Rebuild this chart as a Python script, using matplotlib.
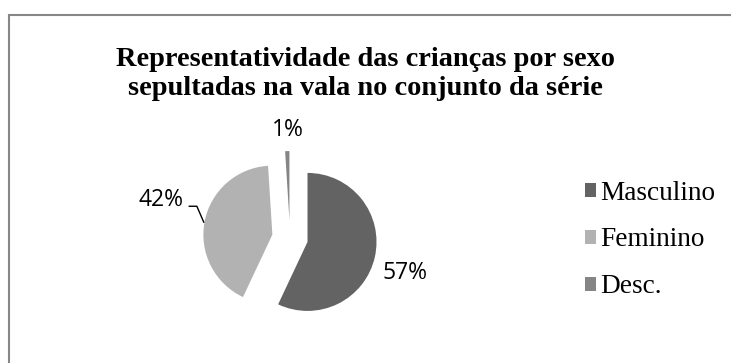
import matplotlib
matplotlib.use("Agg")
import matplotlib.pyplot as plt
from matplotlib.patches import Rectangle

# Data
categories = ["Masculino", "Feminino", "Desc."]
values = [57, 42, 1]
pct_labels = ["57%", "42%", "1%"]
colors = ["#636363", "#b2b2b2", "#858585"]
title = "Representatividade das crianças por sexo\nsepultadas na vala no conjunto da série"

W, H = 731, 363
fig = plt.figure(figsize=(W / 100, H / 100), dpi=100)
fig.patch.set_facecolor("white")

# outer frame (only top/left visible; extends past the image)
fig.patches.append(Rectangle((9 / W, -0.2), 1.3, 1.2 - 14.7 / H,
                             transform=fig.transFigure, fill=False,
                             edgecolor="#878787", linewidth=1.5, zorder=0))

# pie axes: centre at (290, 238) px, radius 69 px
cx, cy, half = 290, 238, 100
ax = fig.add_axes([(cx - half) / W, (H - cy - half) / H, 2 * half / W, 2 * half / H])

explode = [0.26, 0.26, 0.26]
wedges, _ = ax.pie(values, colors=colors, startangle=90, counterclock=False,
                   explode=explode, radius=1.0, frame=False,
                   wedgeprops=dict(linewidth=0))
lim = half / 69.0
ax.set_xlim(-lim, lim)
ax.set_ylim(-lim, lim)
ax.set_aspect("equal")
ax.axis("off")

# percentage labels (layout positions in data units)
label_pos = [(1.67, -0.51), (-1.87, 0.55), (-0.03, 1.57)]
for (x, y), t in zip(label_pos, pct_labels):
    ax.text(x, y, t, ha="center", va="center", fontsize=16.5,
            family="Open Sans", color="black", clip_on=False)

# leader line for 42%
ax.plot([-1.46, -1.35, -1.25], [0.46, 0.46, 0.23], color="black",
        linewidth=1.0, clip_on=False)

# title
fig.text(0.5, 1 - 74 / H, title, ha="center", va="center",
         fontsize=20.4, fontweight="bold", family="Liberation Serif",
         linespacing=1.2)

# legend
leg = fig.legend(wedges, categories, loc="center left",
                 bbox_to_anchor=(585 / W, 1 - 240 / H),
                 frameon=False, prop=dict(family="Liberation Serif", size=19.6),
                 handlelength=0.42, handleheight=0.42, handletextpad=0.12,
                 labelspacing=0.8, borderpad=0, borderaxespad=0)

fig.savefig("out.png", dpi=100, facecolor="white")
